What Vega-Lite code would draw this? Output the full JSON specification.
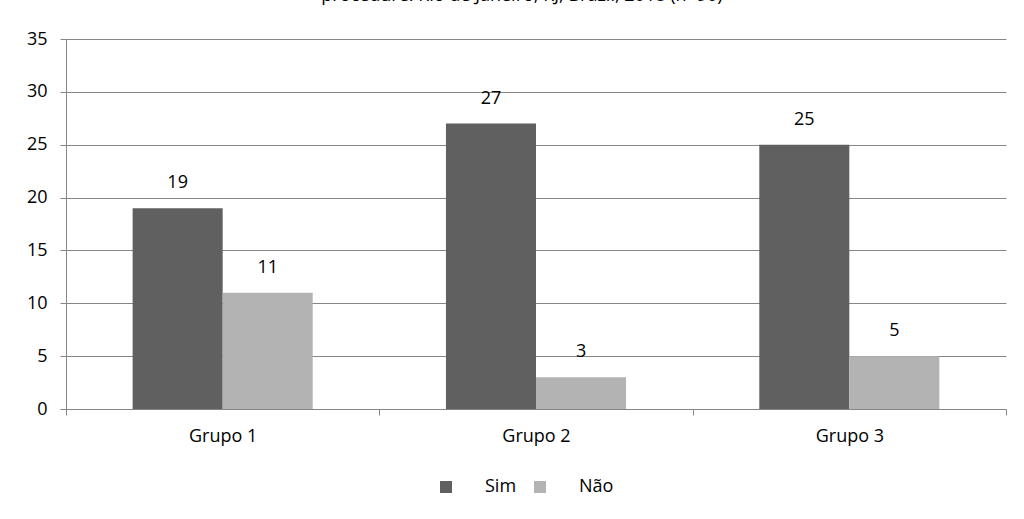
{
  "$schema": "https://vega.github.io/schema/vega-lite/v6.json",
  "width": 940,
  "height": 370,
  "autosize": "none",
  "padding": {"left": 66, "top": 39, "right": 18, "bottom": 110},
  "background": "white",
  "title": {"text": "procedure. Rio de Janeiro, RJ, Brazil, 2018 (n=90)", "font": "Open Sans", "fontSize": 18, "fontWeight": "normal", "color": "#000000", "baseline": "alphabetic", "offset": 0, "dy": -11, "dx": -14, "anchor": "middle", "frame": "group"},
  "config": {
    "font": "Open Sans",
    "view": {"stroke": null},
    "axis": {"labelFont": "Open Sans", "labelFontSize": 18, "labelColor": "#000000", "domainColor": "#868686", "tickColor": "#868686", "gridColor": "#868686", "gridOpacity": 1}
  },
  "data": {
    "values": [
      {"grupo": "Grupo 1", "resposta": "Sim", "valor": 19},
      {"grupo": "Grupo 1", "resposta": "Não", "valor": 11},
      {"grupo": "Grupo 2", "resposta": "Sim", "valor": 27},
      {"grupo": "Grupo 2", "resposta": "Não", "valor": 3},
      {"grupo": "Grupo 3", "resposta": "Sim", "valor": 25},
      {"grupo": "Grupo 3", "resposta": "Não", "valor": 5}
    ]
  },
  "encoding": {
    "x": {"field": "grupo", "type": "nominal", "title": null,
      "scale": {"paddingInner": 0, "paddingOuter": 0},
      "axis": {"labelAngle": 0, "tickBand": "extent", "tickSize": 6, "labelPadding": 12}},
    "xOffset": {"field": "resposta", "type": "nominal", "sort": ["Sim", "Não"], "scale": {"paddingInner": 0, "paddingOuter": 0.74}},
    "y": {"field": "valor", "type": "quantitative", "title": null,
      "scale": {"domain": [0, 35], "nice": false},
      "axis": {"values": [0, 5, 10, 15, 20, 25, 30, 35], "tickSize": 6, "labelPadding": 13, "grid": true, "domain": true}}
  },
  "layer": [
    {
      "mark": {"type": "bar"},
      "encoding": {
        "color": {"field": "resposta", "type": "nominal", "sort": ["Sim", "Não"],
          "scale": {"domain": ["Sim", "Não"], "range": ["#606060", "#b3b3b3"]},
          "legend": {"title": null, "orient": "none", "legendX": 371, "legendY": 439, "direction": "horizontal", "symbolType": "square", "symbolSize": 144, "symbolStrokeWidth": 0, "labelFont": "Open Sans", "labelFontSize": 18, "labelColor": "#000000", "labelOffset": 30, "columnPadding": 14}}
      }
    },
    {
      "mark": {"type": "text", "baseline": "middle", "dy": -25, "font": "Open Sans", "fontSize": 18, "color": "#000000"},
      "encoding": {"text": {"field": "valor", "type": "quantitative"}}
    }
  ]
}
